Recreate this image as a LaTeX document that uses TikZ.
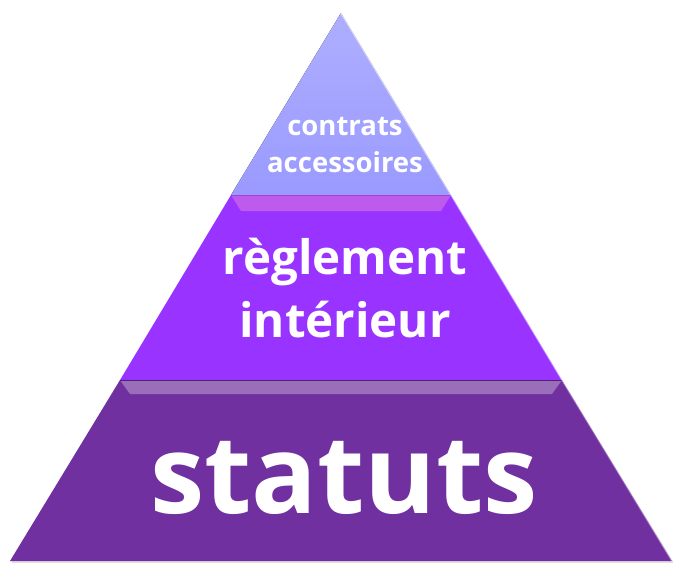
\documentclass[tikz,border=0pt]{standalone}
\usepackage{fontspec}
\setmainfont{Open Sans}
\usetikzlibrary{positioning}
\definecolor{topcol}{HTML}{9A9AFF}
\definecolor{midcol}{HTML}{9933FF}
\definecolor{botcol}{HTML}{7030A0}
\tikzset{tier/.style={draw=none}}
\tikzset{bevel/.style={fill=white, fill opacity=.3}}
\tikzset{lbl/.style={text=white, align=center, inner sep=0pt}}

\begin{document}
\begin{tikzpicture}[x=1pt, y=-1pt]
    \useasboundingbox (0,0) rectangle (673,563);
    \coordinate (apex') at (341,13);
    \coordinate (t1l') at (231,195);
    \coordinate (t1r') at (451,195);
    \coordinate (t2l') at (120,380);
    \coordinate (t2r') at (562,380);
    \coordinate (bl') at (10,561);
    \coordinate (br') at (672,561);

    % soft shadow on the right
    \fill[black, opacity=.12] (563,383) -- (673,561) -- (673,563) -- (12,563) -- (12,561) -- cycle;

    \fill[tier, top color=topcol!80!white, bottom color=topcol] (apex') -- (t1r') -- (t1l') -- cycle;
    \fill[tier, midcol] (t1l') -- (t1r') -- (t2r') -- (t2l') -- cycle;
    \fill[tier, botcol] (t2l') -- (t2r') -- (br') -- (bl') -- cycle;

    % bevels along the top of each tier
    \fill[bevel, fill=magenta!40!white, fill opacity=.4] (t1l') -- (t1r') -- (441,211) -- (241,211) -- cycle;
    \fill[bevel] (t2l') -- (t2r') -- (552,394) -- (130,394) -- cycle;
    \draw[botcol!70!black, line width=1pt] (t2l') -- (t2r');
    \draw[midcol!70!black, opacity=.4, line width=.8pt] (t1l') -- (t1r');

    % light rim on the right edges
    \draw[white, opacity=.55, line width=1.5pt] (apex') -- (t1r');
    \draw[white, opacity=.45, line width=1.5pt] (t1r') -- (t2r');
    \draw[white, opacity=.35, line width=1.5pt] (t2r') -- (br');

    \node[lbl, font=\bfseries\fontsize{27.5}{37}\selectfont] (top) at (345,145) {contrats\\accessoires};
    \node[lbl, font=\bfseries\fontsize{47.5}{63}\selectfont] (mid) at (345,288) {règlement\\intérieur};
    \node[lbl, font=\bfseries\fontsize{109}{109}\selectfont, anchor=base] (bot) at (344,513) {statuts};
\end{tikzpicture}
\end{document}
